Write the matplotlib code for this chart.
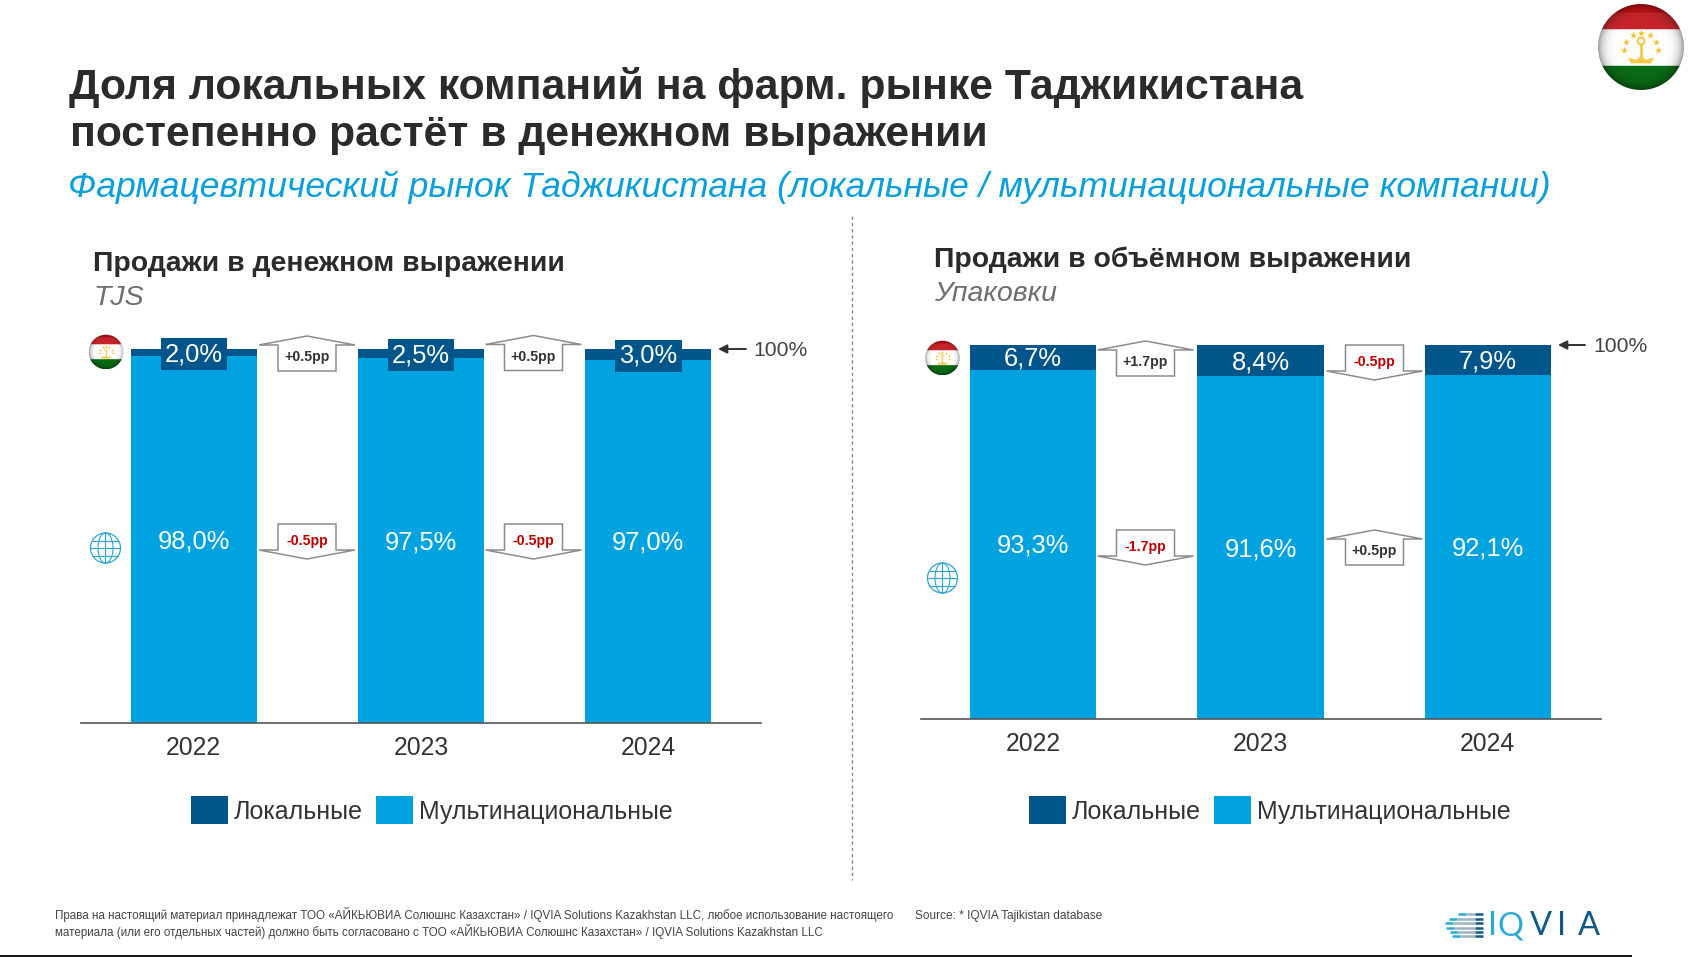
import numpy as np
import matplotlib
matplotlib.use('Agg')
import matplotlib.pyplot as plt
from matplotlib.patches import Polygon, Rectangle, Circle

plt.rcParams['font.family'] = ['Liberation Sans', 'DejaVu Sans']

# data
years = ['2022', '2023', '2024']
local_money = [2.0, 2.5, 3.0]
multi_money = [98.0, 97.5, 97.0]
local_volume = [6.7, 8.4, 7.9]
multi_volume = [93.3, 91.6, 92.1]
delta_money_local = ['+0.5pp', '+0.5pp']
delta_money_multi = ['-0.5pp', '-0.5pp']
delta_volume_local = ['+1.7pp', '-0.5pp']
delta_volume_multi = ['-1.7pp', '+0.5pp']

DARK = '#00558a'
BLUE = '#00a3e0'
W, H = 1689, 957

fig = plt.figure(figsize=(W / 100, H / 100), dpi=100, facecolor='white')


def add_chart(left, right, base, top, local, multi, shift):
    ax = fig.add_axes([left / W, 1 - base / H, (right - left) / W, (base - top) / H])
    x = np.arange(3)
    ax.bar(x, multi, width=0.555, color=BLUE)
    ax.bar(x, local, width=0.555, bottom=multi, color=DARK)
    ax.set_xlim(-0.5 + shift, 2.491 + shift)
    ax.set_ylim(0, 100)
    ax.set_xticks(x)
    ax.set_xticklabels(years, fontsize=17.8, color='#333333')
    ax.tick_params(axis='x', length=0, pad=9.5)
    ax.set_yticks([])
    for s in ['top', 'left', 'right']:
        ax.spines[s].set_visible(False)
    ax.spines['bottom'].set_color('#555555')
    ax.spines['bottom'].set_linewidth(1.2)
    for i in x:
        # small shares get a dark box so the label stays readable
        box = dict(fc=DARK, ec='none', pad=3) if local[i] < 4 else None
        ax.text(i, multi[i] + local[i] / 2 + 0.3, f'{local[i]:.1f}%'.replace('.', ','), color='white',
                ha='center', va='center_baseline', fontsize=18.4, bbox=box)
        ax.text(i, multi[i] / 2 + 0.3, f'{multi[i]:.1f}%'.replace('.', ','), color='white',
                ha='center', va='center_baseline', fontsize=18.4)
    return ax


add_chart(81, 761, 723, 349, local_money, multi_money, 0.0044)
add_chart(921, 1601, 719, 345, local_volume, multi_volume, 0.0066)

# overlay in pixel coordinates for everything around the charts
ov = fig.add_axes([0, 0, 1, 1], zorder=5)
ov.set_xlim(0, W)
ov.set_ylim(H, 0)
ov.axis('off')
ov.patch.set_alpha(0)


def badge(cx, top, label, up):
    hw, sw, h, wing = 48, 29, 35, 9
    if up:
        pts = [(cx, top), (cx + hw, top + wing), (cx + sw, top + wing), (cx + sw, top + h),
               (cx - sw, top + h), (cx - sw, top + wing), (cx - hw, top + wing)]
        ty = top + 21
    else:
        pts = [(cx - sw, top), (cx + sw, top), (cx + sw, top + h - wing), (cx + hw, top + h - wing),
               (cx, top + h), (cx - hw, top + h - wing), (cx - sw, top + h - wing)]
        ty = top + 17
    ov.add_patch(Polygon(pts, closed=True, fc='white', ec='#8c8c8c', lw=1.1))
    color = '#c00000' if label.startswith('-') else '#333333'
    ov.text(cx, ty, label, ha='center', va='center', fontsize=10.2, fontweight='bold', color=color)


def flag(cx, cy, r):
    n = 160
    yy, xx = np.mgrid[-1:1:n * 1j, -1:1:n * 1j]
    rad = np.sqrt(xx ** 2 + yy ** 2)
    img = np.ones((n, n, 3))
    img[yy < -0.42] = (0.76, 0.07, 0.09)
    img[yy > 0.44] = (0.04, 0.42, 0.08)
    shade = 1 - 0.38 * np.clip(rad, 0, 1) ** 8
    img = img * shade[..., None]
    gloss = (yy < -0.42) & (yy > -0.8)
    img[gloss] = img[gloss] * 0.92 + 0.08
    im = ov.imshow(img, extent=[cx - r, cx + r, cy + r, cy - r], aspect='auto', zorder=6)
    im.set_clip_path(Circle((cx, cy), r, transform=ov.transData))
    sx = [-0.40, -0.34, -0.19, 0, 0.20, 0.35, 0.40]
    sy = [0.08, -0.12, -0.27, -0.33, -0.27, -0.12, 0.08]
    ov.scatter([cx + a * r for a in sx], [cy + b * r for b in sy], marker='*', s=(r / 8) ** 2,
               color='#f4c02c', lw=0, zorder=7)
    gold = '#f4c94a'
    crown = [(-0.24, 0.38), (0.24, 0.38), (0.30, 0.24), (0.12, 0.30), (0, 0.22), (-0.12, 0.30), (-0.30, 0.24)]
    ov.add_patch(Polygon([(cx + a * r, cy + b * r) for a, b in crown], closed=True, fc=gold, ec='none', zorder=7))
    ov.plot([cx, cx], [cy + 0.22 * r, cy - 0.06 * r], color=gold, lw=r / 22, zorder=7)
    ov.add_patch(Circle((cx, cy - 0.14 * r), 0.08 * r, fc='none', ec=gold, lw=r / 30, zorder=7))


def globe(cx, cy, r):
    c = '#2aa5d6'
    ov.add_patch(Circle((cx, cy), r, fc='none', ec=c, lw=0.9))
    t = np.linspace(-np.pi / 2, np.pi / 2, 40)
    for k in (0.5, -0.5):
        ov.plot(cx + k * r * np.cos(t), cy + r * np.sin(t), color=c, lw=0.8)
    ov.plot([cx, cx], [cy - r, cy + r], color=c, lw=0.8)
    ov.plot([cx - r, cx + r], [cy, cy], color=c, lw=0.8)
    for k in (-0.5, 0.5):
        dx = r * np.sqrt(1 - k ** 2)
        ov.plot([cx - dx, cx + dx], [cy + k * r, cy + k * r], color=c, lw=0.8)


# headings
TITLE = '#2b2b2b'
ov.text(69, 99, 'Доля локальных компаний на фарм. рынке Таджикистана', fontsize=30.75,
        fontweight='bold', color=TITLE, va='baseline')
ov.text(70, 146, 'постепенно растёт в денежном выражении', fontsize=30.75, fontweight='bold',
        color=TITLE, va='baseline')
ov.text(68, 197, 'Фармацевтический рынок Таджикистана (локальные / мультинациональные компании)',
        fontsize=25.55, style='italic', color='#0a9fdc', va='baseline')

ov.text(93, 271, 'Продажи в денежном выражении', fontsize=20.4, fontweight='bold', color=TITLE, va='baseline')
ov.text(93, 305, 'TJS', fontsize=20.5, style='italic', color='#6e6e6e', va='baseline')
ov.text(934, 267, 'Продажи в объёмном выражении', fontsize=20.4, fontweight='bold', color=TITLE, va='baseline')
ov.text(934, 301, 'Упаковки', fontsize=20.5, style='italic', color='#6e6e6e', va='baseline')

# divider
ov.plot([852, 852], [216, 880], color='#8a8a8a', lw=1, ls=(0, (2.5, 2)))

# change badges
badge(307, 336, delta_money_local[0], True)
badge(533.5, 335.5, delta_money_local[1], True)
badge(307, 524, delta_money_multi[0], False)
badge(533.5, 524, delta_money_multi[1], False)
badge(1145.5, 341, delta_volume_local[0], True)
badge(1374.5, 345, delta_volume_local[1], False)
badge(1145.5, 530, delta_volume_multi[0], False)
badge(1374.5, 530, delta_volume_multi[1], True)

# 100% marks
for tip, tail, ty, tx in [(718, 746, 349, 753), (1558, 1585, 345, 1593)]:
    ov.annotate('', xy=(tip, ty), xytext=(tail, ty),
                arrowprops=dict(arrowstyle='-|>', color='#333333', lw=1.4, shrinkA=0, shrinkB=0, mutation_scale=13))
    ov.text(tx, ty + 2, '100%', fontsize=15.2, color='#444444', va='center')

# flags and globes
flag(1641, 47, 43)
flag(106, 352, 17.3)
flag(942.5, 358, 17.3)
globe(105.5, 548, 15)
globe(942.5, 578, 15)

# legends
for sw_local, sw_multi in [(191, 376), (1029, 1214)]:
    ov.add_patch(Rectangle((sw_local, 796), 37, 28, fc=DARK, ec='none'))
    ov.add_patch(Rectangle((sw_multi, 796), 37, 28, fc=BLUE, ec='none'))
    ov.text(sw_local + 43, 812, 'Локальные', fontsize=18, color='#333333', va='center')
    ov.text(sw_multi + 43, 812, 'Мультинациональные', fontsize=17.95, color='#333333', va='center')

# footer
ov.text(55, 914.5, 'Права на настоящий материал принадлежат ТОО «АЙКЬЮВИА Солюшнс Казахстан» / IQVIA Solutions Kazakhstan LLC, '
        'любое использование настоящего', fontsize=8.4, color='#444444', va='center')
ov.text(55, 931.5, 'материала (или его отдельных частей) должно быть согласовано с ТОО «АЙКЬЮВИА Солюшнс Казахстан» / '
        'IQVIA Solutions Kazakhstan LLC', fontsize=8.4, color='#444444', va='center')
ov.text(915, 915.5, 'Source: * IQVIA Tajikistan database', fontsize=8.55, color='#444444', va='center')

# logo
stripe_y = [914, 918.5, 923, 927.5, 932, 936]
stripe_x = [1458, 1449, 1445, 1446, 1450, 1452]
for yy, x0 in zip(stripe_y, stripe_x):
    ov.plot([x0, x0 + 8], [yy, yy], color='#29a9d6', lw=1.8, solid_capstyle='butt')
    ov.plot([x0 + 8, 1475], [yy, yy], color='#9db4c4', lw=1.8, solid_capstyle='butt')
    ov.plot([1475, 1483], [yy, yy], color='#0f5b85', lw=1.8, solid_capstyle='butt')
logo_letters = ['I', 'Q', 'V', 'I', 'A']
logo_x = [1493, 1511, 1541, 1562, 1589]
logo_c = ['#29a9d6', '#29a9d6', '#0f5b85', '#0f5b85', '#0f5b85']
for ch, lx, lc in zip(logo_letters, logo_x, logo_c):
    ov.text(lx, 935, ch, fontsize=23.5, family='Lato', color=lc, ha='center', va='baseline')

# bottom rule
ov.add_patch(Rectangle((0, 955), 1632, 2, fc='#1a1a1a', ec='none', clip_on=False))

ov.set_xlim(0, W)
ov.set_ylim(H, 0)
fig.savefig('out.png', dpi=100)
